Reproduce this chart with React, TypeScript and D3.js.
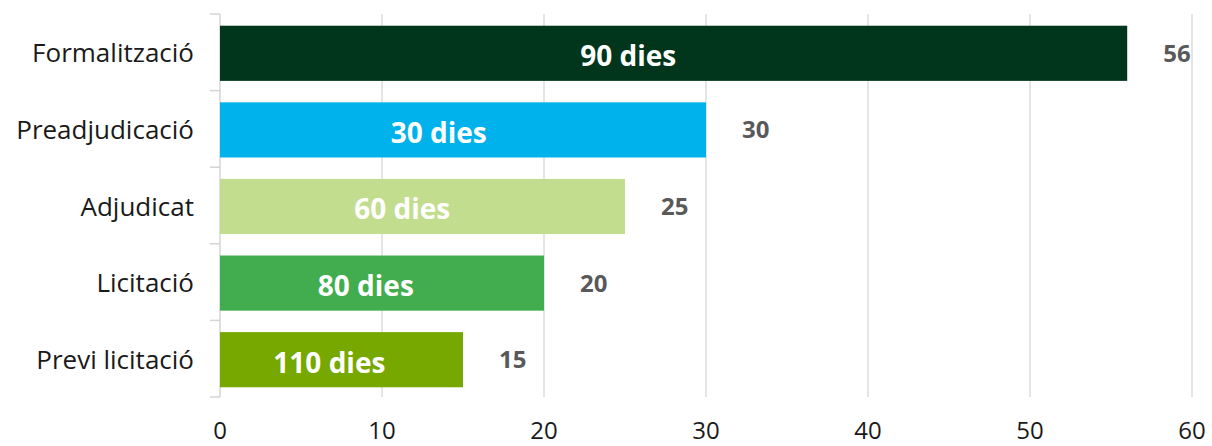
import React from "react";
import { scaleBand, scaleLinear } from "d3";

// stages top to bottom
const stages = [
  "Formalització",
  "Preadjudicació",
  "Adjudicat",
  "Licitació",
  "Previ licitació"
];
const values = [56, 30, 25, 20, 15];
const dayLabels = ["90 dies", "30 dies", "60 dies", "80 dies", "110 dies"];
const barColors = ["#01361c", "#00b2ec", "#c2dd8e", "#41ad4f", "#76a800"];
const xTicks = [0, 10, 20, 30, 40, 50, 60];

const width = 1212;
const height = 446;
const left = 220;
const right = 1192;
const top = 15;
const bottom = 398;
const font = "'Open Sans', sans-serif";

export default function App() {
  const x = scaleLinear().domain([0, 60]).range([left, right]);
  const y = scaleBand()
    .domain(stages)
    .range([top, bottom])
    .paddingInner(0.28)
    .paddingOuter(0.14);
  const step = y.step();
  const bw = y.bandwidth();

  return (
    <div style={{ position: "absolute", left: 0, top: 0 }}>
      <svg width={width} height={height} style={{ display: "block" }}>
        <rect width={width} height={height} fill="#fff" />
        {/* vertical grid */}
        {xTicks.slice(1).map(t => (
          <line
            key={t}
            x1={x(t)}
            x2={x(t)}
            y1={top - 1}
            y2={bottom - 1}
            stroke="#dcdcdc"
            strokeWidth={1.5}
          />
        ))}
        {/* category axis */}
        <line
          x1={left}
          x2={left}
          y1={top - 1}
          y2={bottom - 1}
          stroke="#d4d4d4"
          strokeWidth={1.5}
        />
        {stages.map((s, i) => (
          <line
            key={"t" + i}
            x1={left - 10}
            x2={left}
            y1={top - 1 + i * step}
            y2={top - 1 + i * step}
            stroke="#d4d4d4"
            strokeWidth={1.5}
          />
        ))}
        <line
          x1={left - 10}
          x2={left}
          y1={bottom - 1}
          y2={bottom - 1}
          stroke="#d4d4d4"
          strokeWidth={1.5}
        />
        {stages.map((s, i) => {
          const yc = y(s) + bw / 2;
          return (
            <g key={s}>
              <rect
                x={x(0)}
                y={y(s)}
                width={x(values[i]) - x(0)}
                height={bw}
                fill={barColors[i]}
              />
              <text
                x={194}
                y={yc}
                dy="0.35em"
                textAnchor="end"
                fontFamily={font}
                fontSize={26}
                fill="#1a1a1a"
              >
                {s}
              </text>
              <text
                x={x(values[i] * 0.45)}
                y={yc + 3}
                dy="0.35em"
                textAnchor="middle"
                fontFamily={font}
                fontSize={28}
                fontWeight="bold"
                fill="#fff"
              >
                {dayLabels[i]}
              </text>
              <text
                x={x(values[i]) + 36}
                y={yc}
                dy="0.35em"
                fontFamily={font}
                fontSize={24}
                fontWeight="bold"
                fill="#595959"
              >
                {values[i]}
              </text>
            </g>
          );
        })}
        {xTicks.map(t => (
          <text
            key={"l" + t}
            x={x(t)}
            y={439}
            textAnchor="middle"
            fontFamily={font}
            fontSize={24}
            fill="#1a1a1a"
          >
            {t}
          </text>
        ))}
      </svg>
    </div>
  );
}
